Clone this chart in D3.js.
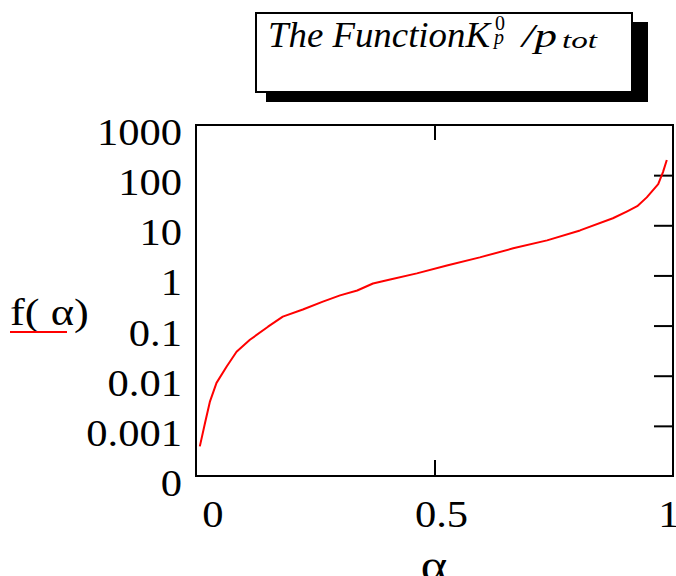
<!DOCTYPE html>
<html>
<head>
<meta charset="utf-8">
<script src="https://cdn.jsdelivr.net/npm/d3@7"></script>
<style>
  body { margin: 0; background: #fff; }
  svg { display: block; }
  text { font-family: "Liberation Serif", "Times New Roman", serif; fill: #000; }
</style>
</head>
<body>
<script>
// values (alpha, f(alpha))
const alphaVals = [0.008, 0.019, 0.029, 0.043, 0.064, 0.085, 0.113, 0.151, 0.182, 0.224,
  0.266, 0.302, 0.338, 0.371, 0.407, 0.463, 0.526, 0.595, 0.665, 0.736,
  0.805, 0.874, 0.904, 0.925, 0.945, 0.969, 0.979, 0.987]
const fVals = [0.00039, 0.00115, 0.0030, 0.0072, 0.0151, 0.030, 0.052, 0.095, 0.151, 0.209,
  0.30, 0.40, 0.50, 0.69, 0.83, 1.10, 1.58, 2.29, 3.47, 5.0,
  7.9, 13.8, 19, 24, 36, 66, 115, 200]
const yTicks = [1e3, 100, 10, 1, 0.1, 0.01, 0.001, 1e-4]
const yTickLabels = ["1000", "100", "10", "1", "0.1", "0.01", "0.001", "0"]
const xTicks = [0, 0.5, 1]
const xTickLabels = ["0", "0.5", "1"]

const W = 676, H = 576
const plot = {left: 196, right: 673, top: 125, bottom: 476}
const xLabelShift = [17, 7, -4]   // mathcad nudges the end labels inward

const svg = d3.select("body").append("svg").attr("width", W).attr("height", H)

const x = d3.scaleLinear().domain([0, 1]).range([plot.left, plot.right])
const y = d3.scaleLog().domain([1e-4, 1e3]).range([plot.bottom, plot.top])

// title box with shadow
svg.append("rect").attr("x", 266).attr("y", 22).attr("width", 382).attr("height", 80).attr("fill", "#000")
svg.append("rect").attr("x", 256).attr("y", 13).attr("width", 376).attr("height", 79)
  .attr("fill", "#fff").attr("stroke", "#000").attr("stroke-width", 2)

const title = svg.append("g").style("font-style", "italic")
title.append("text").attr("x", 268).attr("y", 47).style("font-size", "35px")
  .attr("textLength", 222).attr("lengthAdjust", "spacingAndGlyphs").text("The FunctionK")
title.append("text").attr("x", 495).attr("y", 30).style("font-size", "20px").style("font-style", "normal").text("0")
title.append("text").attr("x", 494).attr("y", 44).style("font-size", "20px").text("p")
title.append("text").attr("x", 522).attr("y", 47).style("font-size", "34px")
  .attr("textLength", 35).attr("lengthAdjust", "spacingAndGlyphs").text("/p")
title.append("text").attr("x", 562).attr("y", 48).style("font-size", "24px")
  .attr("textLength", 35).attr("lengthAdjust", "spacingAndGlyphs").text("tot")

// frame
svg.append("rect")
  .attr("x", plot.left).attr("y", plot.top)
  .attr("width", plot.right - plot.left).attr("height", plot.bottom - plot.top)
  .attr("fill", "none").attr("stroke", "#000").attr("stroke-width", 2)

// inner ticks
svg.append("g").attr("transform", `translate(${plot.right},0)`)
  .call(d3.axisLeft(y).tickValues(yTicks.slice(1, -1)).tickSize(19).tickFormat(""))
  .call(g => g.select(".domain").remove())
  .call(g => g.selectAll("line").attr("stroke-width", 2))

svg.append("g").attr("transform", `translate(0,${plot.top})`)
  .call(d3.axisBottom(x).tickValues([0.5]).tickSize(15).tickFormat(""))
  .call(g => g.select(".domain").remove())
  .call(g => g.selectAll("line").attr("stroke-width", 2))

svg.append("g").attr("transform", `translate(0,${plot.bottom})`)
  .call(d3.axisTop(x).tickValues([0.5]).tickSize(16).tickFormat(""))
  .call(g => g.select(".domain").remove())
  .call(g => g.selectAll("line").attr("stroke-width", 2))

// tick labels
svg.append("g").selectAll("text").data(yTicks).join("text")
  .attr("transform", d => `translate(182,${y(d) + 20}) scale(1.15,1)`)
  .attr("text-anchor", "end").style("font-size", "37px")
  .text((d, i) => yTickLabels[i])

svg.append("g").selectAll("text").data(xTicks).join("text")
  .attr("transform", (d, i) => `translate(${x(d) + xLabelShift[i]},527) scale(1.15,1)`)
  .attr("text-anchor", "middle").style("font-size", "37px")
  .text((d, i) => xTickLabels[i])

// axis titles
svg.append("text").attr("transform", "translate(434,580) scale(1.15,1)")
  .attr("text-anchor", "middle").style("font-size", "44px").text("α")

svg.append("text").attr("transform", "translate(10,325) scale(1.2,1)")
  .style("font-size", "37px").text("f( α)")
svg.append("line").attr("x1", 10).attr("x2", 67).attr("y1", 332).attr("y2", 332)
  .attr("stroke", "red").attr("stroke-width", 2)

// curve
const line = d3.line().x((d, i) => x(alphaVals[i])).y(d => y(d))
svg.append("path").datum(fVals)
  .attr("fill", "none").attr("stroke", "red").attr("stroke-width", 2)
  .attr("stroke-linejoin", "round")
  .attr("d", line)
</script>
</body>
</html>
